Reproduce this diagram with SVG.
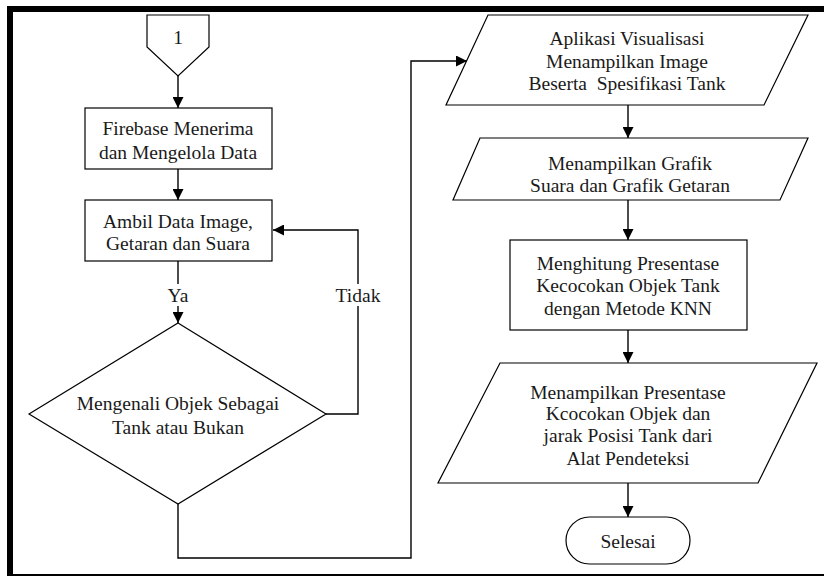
<svg xmlns="http://www.w3.org/2000/svg" width="824" height="576" viewBox="0 0 824 576">
<defs>
<marker id="ah" viewBox="0 0 11 11" refX="11" refY="5.5" markerWidth="11" markerHeight="11" markerUnits="userSpaceOnUse" orient="auto">
<path d="M0,0 L11,5.5 L0,11 Z" fill="#000"/>
</marker>
<style>
.s{fill:#fff;stroke:#000;stroke-width:1.2}
.t{font-family:"Liberation Serif","Times New Roman",serif;font-size:19.5px;fill:#1a1a1a;text-anchor:middle;dominant-baseline:central}
.c{fill:none;stroke:#000;stroke-width:1.4}
</style>
</defs>
<rect x="0" y="0" width="824" height="576" fill="#fff"/>
<rect x="10" y="9" width="830" height="568" fill="none" stroke="#000" stroke-width="6"/>

<g id="connectors">
<path class="c" d="M178,76 V108" marker-end="url(#ah)"/>
<path class="c" d="M178,169 V200" marker-end="url(#ah)"/>
<path class="c" d="M178,261 V323" marker-end="url(#ah)"/>
<path class="c" d="M326,414 H358 V230 H273" marker-end="url(#ah)"/>
<path class="c" d="M178,504 V558 H411 V61 H467" marker-end="url(#ah)"/>
<path class="c" d="M628,105 V138" marker-end="url(#ah)"/>
<path class="c" d="M628,200 V240" marker-end="url(#ah)"/>
<path class="c" d="M628,330 V363" marker-end="url(#ah)"/>
<path class="c" d="M628,483 V517" marker-end="url(#ah)"/>
<rect x="163" y="284" width="30" height="22" fill="#fff"/>
<text class="t" x="178" y="295">Ya</text>
<rect x="333" y="284" width="50" height="22" fill="#fff"/>
<text class="t" x="358" y="295">Tidak</text>
</g>

<g id="start">
<polygon class="s" points="147,15 209,15 209,47 178,76 147,47"/>
<text class="t" x="178" y="37">1</text>
</g>

<g id="firebase">
<rect class="s" x="85" y="108" width="187" height="61"/>
<text class="t" x="178" y="128">Firebase Menerima</text>
<text class="t" x="178" y="152">dan Mengelola Data</text>
</g>

<g id="ambil">
<rect class="s" x="85" y="200" width="187" height="61"/>
<text class="t" x="178" y="221">Ambil Data Image,</text>
<text class="t" x="178" y="243">Getaran dan Suara</text>
</g>

<g id="mengenali">
<polygon class="s" points="178,323 326,414 178,504 29,414"/>
<text class="t" x="178" y="403">Mengenali Objek Sebagai</text>
<text class="t" x="178" y="427">Tank atau Bukan</text>
</g>

<g id="aplikasi">
<polygon class="s" points="488,15 808,15 764,105 446,105"/>
<text class="t" x="627" y="38">Aplikasi Visualisasi</text>
<text class="t" x="627" y="61">Menampilkan Image</text>
<text class="t" x="627" y="83" xml:space="preserve">Beserta  Spesifikasi Tank</text>
</g>

<g id="grafik">
<polygon class="s" points="480,138 808,138 780,200 453,200"/>
<text class="t" x="630" y="163">Menampilkan Grafik</text>
<text class="t" x="630" y="185">Suara dan Grafik Getaran</text>
</g>

<g id="knn">
<rect class="s" x="510" y="240" width="237" height="90"/>
<text class="t" x="628" y="263">Menghitung Presentase</text>
<text class="t" x="628" y="285">Kecocokan Objek Tank</text>
<text class="t" x="628" y="308">dengan Metode KNN</text>
</g>

<g id="presentase">
<polygon class="s" points="500,363 817,363 758,483 438,483"/>
<text class="t" x="628" y="392">Menampilkan Presentase</text>
<text class="t" x="628" y="413">Kcocokan Objek dan</text>
<text class="t" x="628" y="435">jarak Posisi Tank dari</text>
<text class="t" x="628" y="458">Alat Pendeteksi</text>
</g>

<g id="selesai">
<rect class="s" x="566" y="517" width="124" height="47" rx="23.5" ry="23.5"/>
<text class="t" x="628" y="541">Selesai</text>
</g>
</svg>
